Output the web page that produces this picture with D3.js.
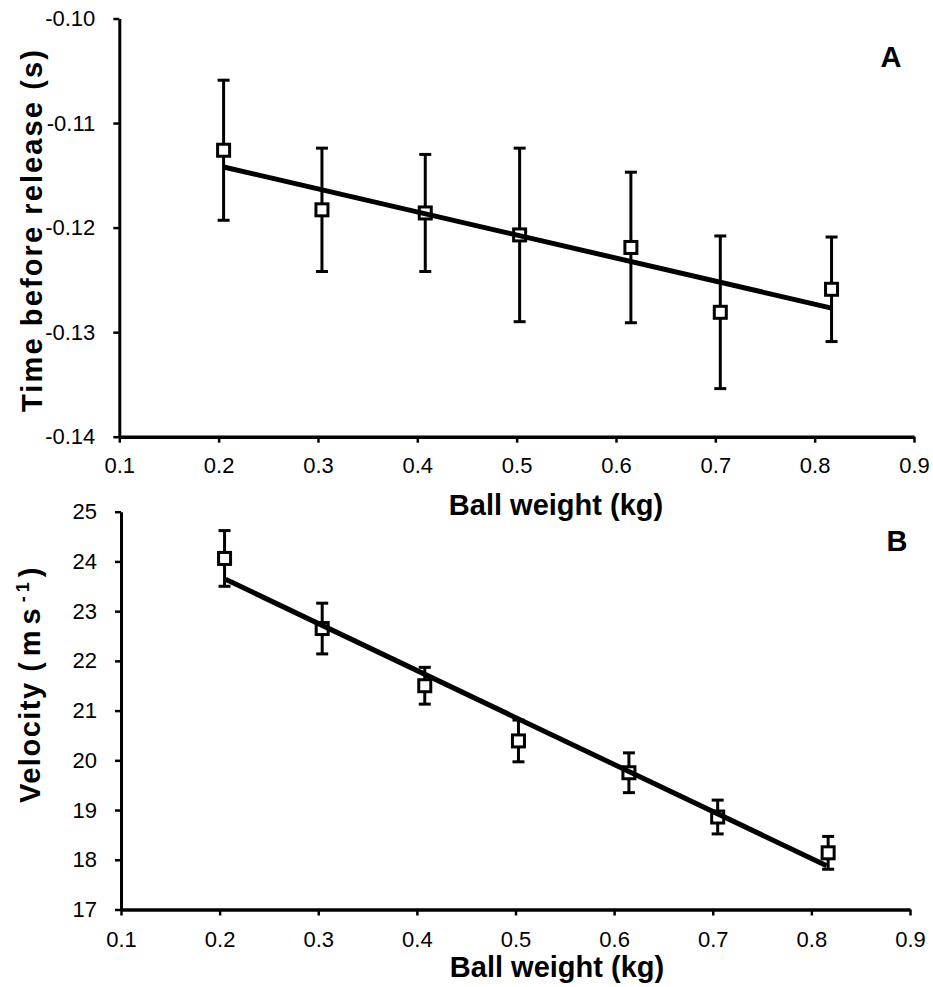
<!DOCTYPE html>
<html>
<head>
<meta charset="utf-8">
<script src="https://cdn.jsdelivr.net/npm/d3@7"></script>
<style>
  html, body { margin: 0; padding: 0; background: #fff; }
  svg { display: block; }
  .tick text { font-family: "Liberation Sans", Arial, sans-serif; font-size: 22px; fill: #000; }
</style>
</head>
<body>
<div id="chart"></div>
<script>
// ---------- data ----------
const ballWeights = [0.205, 0.304, 0.408, 0.503, 0.615, 0.705, 0.817];
// Panel A: time before release (s)
const timeMean = [-0.1126, -0.1183, -0.1186, -0.1207, -0.1219, -0.1281, -0.1259];
const timeSD   = [0.0067, 0.0059, 0.0056, 0.0083, 0.0072, 0.0073, 0.0050];
const timeTrendX = [0.205, 0.817];
const timeTrendY = [-0.1142, -0.1277];
// Panel B: velocity (m/s)
const velMean = [24.06, 22.65, 21.50, 20.39, 19.75, 18.86, 18.14];
const velSD   = [0.56, 0.51, 0.37, 0.42, 0.40, 0.34, 0.33];
const velTrendX = [0.206, 0.8155];
const velTrendY = [23.64, 17.88];
// ticks
const xTicks = [0.1, 0.2, 0.3, 0.4, 0.5, 0.6, 0.7, 0.8, 0.9];
const xTickLabels = ["0.1", "0.2", "0.3", "0.4", "0.5", "0.6", "0.7", "0.8", "0.9"];
const timeTicks = [-0.14, -0.13, -0.12, -0.11, -0.10];
const timeTickLabels = ["-0.14", "-0.13", "-0.12", "-0.11", "-0.10"];
const velTicks = [17, 18, 19, 20, 21, 22, 23, 24, 25];
const velTickLabels = ["17", "18", "19", "20", "21", "22", "23", "24", "25"];

// ---------- drawing ----------
const W = 933, H = 987;
const svg = d3.select("#chart").append("svg").attr("width", W).attr("height", H);
const FONT = '"Liberation Sans", Arial, Helvetica, sans-serif';

function panel(cfg) {
  const x = d3.scaleLinear().domain([0.1, 0.9]).range(cfg.xRange);
  const y = d3.scaleLinear().domain(cfg.yDomain).range(cfg.yRange);
  const g = svg.append("g");

  // axes
  const xAxis = d3.axisBottom(x).tickValues(xTicks)
    .tickFormat((d, i) => xTickLabels[i]).tickSize(6).tickSizeOuter(0).tickPadding(cfg.xPad);
  const gx = g.append("g").attr("transform", `translate(0,${cfg.yRange[0]})`).call(xAxis);
  const yAxis = d3.axisLeft(y).tickValues(cfg.yTicks)
    .tickFormat((d, i) => cfg.yTickLabels[i]).tickSize(6).tickSizeOuter(0).tickPadding(18);
  const gy = g.append("g").attr("transform", `translate(${cfg.xRange[0]},0)`).call(yAxis);
  gx.select(".domain").attr("stroke", "#000").attr("stroke-width", 3.5);
  gy.select(".domain").attr("stroke", "#000").attr("stroke-width", 3);
  g.selectAll(".tick line").attr("stroke", "#000").attr("stroke-width", 2.5);

  const data = ballWeights.map((w, i) => ({ w, m: cfg.mean[i], sd: cfg.sd[i] }));

  // error bars
  const eb = g.append("g").attr("stroke", "#000").attr("stroke-width", 3);
  eb.selectAll("line.v").data(data).join("line").attr("class", "v")
    .attr("x1", d => x(d.w)).attr("x2", d => x(d.w))
    .attr("y1", d => y(d.m + d.sd)).attr("y2", d => y(d.m - d.sd));
  eb.selectAll("line.t").data(data).join("line").attr("class", "t")
    .attr("x1", d => x(d.w) - 6).attr("x2", d => x(d.w) + 6)
    .attr("y1", d => y(d.m + d.sd)).attr("y2", d => y(d.m + d.sd));
  eb.selectAll("line.b").data(data).join("line").attr("class", "b")
    .attr("x1", d => x(d.w) - 6).attr("x2", d => x(d.w) + 6)
    .attr("y1", d => y(d.m - d.sd)).attr("y2", d => y(d.m - d.sd));

  // markers
  g.append("g").selectAll("rect").data(data).join("rect")
    .attr("x", d => x(d.w) - 6).attr("y", d => y(d.m) - 6)
    .attr("width", 12).attr("height", 12)
    .attr("fill", "#fff").attr("stroke", "#000").attr("stroke-width", 3);

  // trend line
  const trend = cfg.trendX.map((t, i) => [t, cfg.trendY[i]]);
  g.append("path").datum(trend)
    .attr("d", d3.line().x(d => x(d[0])).y(d => y(d[1])))
    .attr("fill", "none").attr("stroke", "#000").attr("stroke-width", 5);

  // x title
  g.append("text").attr("x", cfg.xTitleX).attr("y", cfg.xTitleY)
    .attr("text-anchor", "middle").attr("font-family", FONT)
    .attr("font-weight", "bold").attr("font-size", 29).text("Ball weight (kg)");

  // panel label
  g.append("text").attr("x", cfg.labelX).attr("y", cfg.labelY)
    .attr("text-anchor", "middle").attr("font-family", FONT)
    .attr("font-weight", "bold").attr("font-size", 29).text(cfg.label);

  return g;
}

const gA = panel({
  xRange: [119.3, 914], yDomain: [-0.14, -0.10], yRange: [436.7, 18.5],
  yTicks: timeTicks, yTickLabels: timeTickLabels, xPad: 15,
  mean: timeMean, sd: timeSD, trendX: timeTrendX, trendY: timeTrendY,
  xTitleX: 556, xTitleY: 515, labelX: 891, labelY: 67, label: "A"
});
gA.append("text").attr("transform", "translate(42,231) rotate(-90)")
  .attr("text-anchor", "middle").attr("font-family", FONT)
  .attr("font-weight", "bold").attr("font-size", 29)
  .attr("textLength", 362).attr("lengthAdjust", "spacing")
  .text("Time before release (s)");

const gB = panel({
  xRange: [121, 910], yDomain: [17, 25], yRange: [909.5, 511.7],
  yTicks: velTicks, yTickLabels: velTickLabels, xPad: 16,
  mean: velMean, sd: velSD, trendX: velTrendX, trendY: velTrendY,
  xTitleX: 557, xTitleY: 977, labelX: 897, labelY: 551, label: "B"
});
const vt = gB.append("text").attr("transform", "translate(40,803) rotate(-90)")
  .attr("text-anchor", "start").attr("font-family", FONT)
  .attr("font-weight", "bold").attr("font-size", 29);
vt.append("tspan").attr("letter-spacing", 1.5).text("Velocity ");
vt.append("tspan").attr("letter-spacing", 6).text("(ms");
vt.append("tspan").attr("font-size", 18).attr("dy", -11).attr("letter-spacing", 4).text("-1");
vt.append("tspan").attr("dy", 11).attr("dx", 1).text(")");
</script>
</body>
</html>
